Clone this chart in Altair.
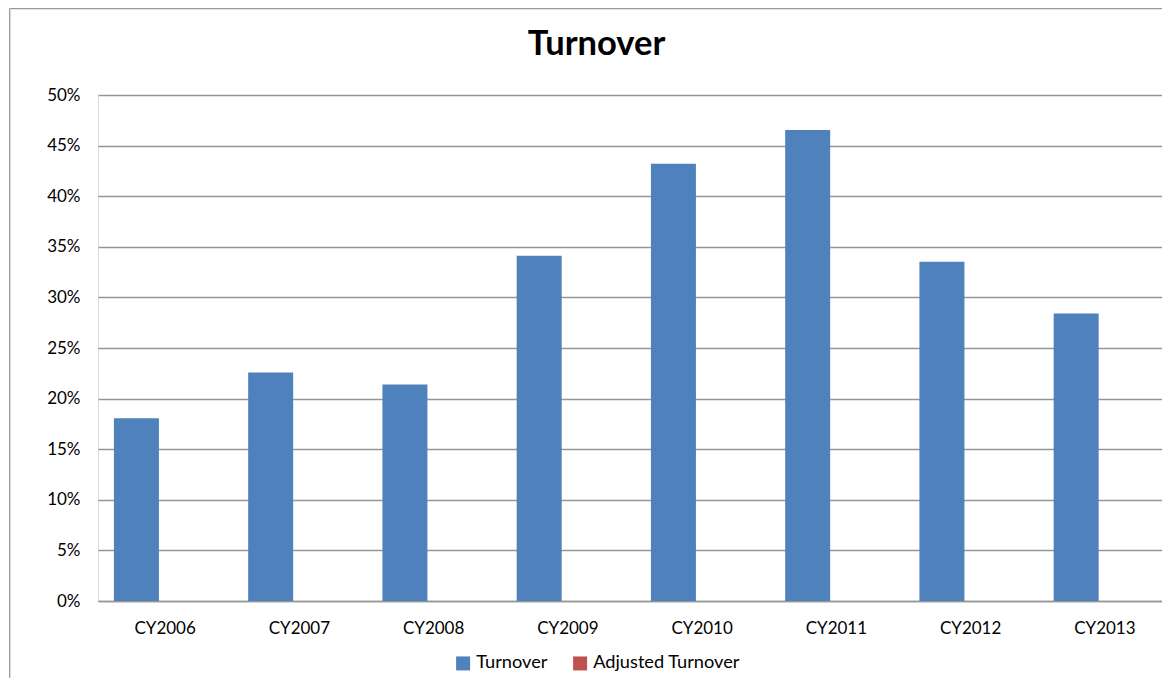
import altair as alt
import pandas as pd

categories = ["CY2006", "CY2007", "CY2008", "CY2009", "CY2010", "CY2011", "CY2012", "CY2013"]
turnover = [0.1805, 0.2258, 0.2140, 0.3412, 0.4320, 0.4655, 0.3353, 0.2840]
series_names = ["Turnover", "Adjusted Turnover"]
series_colors = ["#4F81BD", "#C0504D"]
y_ticks = [0, 0.05, 0.10, 0.15, 0.20, 0.25, 0.30, 0.35, 0.40, 0.45, 0.50]

df = pd.DataFrame({"cat": categories, "value": turnover, "series": ["Turnover"] * len(categories)})

FONT = "Lato"
W, H = 1064, 506
FULL_W = 1074

bars = alt.Chart(df).mark_bar(width=45, xOffset=-28.7).encode(
    x=alt.X("cat:N", sort=categories, title=None,
            scale=alt.Scale(range=[0, FULL_W], paddingInner=0, paddingOuter=0),
            axis=alt.Axis(labelAngle=0, ticks=False, tickSize=0, labelPadding=19,
                          labelFontSize=17, labelFont=FONT, labelColor="#000000",
                          domainColor="#969696", domainWidth=1.3, grid=False)),
    y=alt.Y("value:Q", title=None,
            scale=alt.Scale(domain=[0, 0.5], nice=False),
            axis=alt.Axis(values=y_ticks, format=".0%", ticks=False, domain=False,
                          labelPadding=18, labelFontSize=17, labelFont=FONT,
                          labelColor="#000000", gridColor="#969696", gridWidth=1.3)),
    color=alt.Color("series:N",
                    scale=alt.Scale(domain=series_names, range=series_colors),
                    legend=alt.Legend(title=None, orient="none", legendX=356, legendY=559,
                                      direction="horizontal", symbolType="square",
                                      symbolSize=196, symbolStrokeWidth=0,
                                      labelFont=FONT, labelFontSize=18.2, labelColor="#000000",
                                      labelOffset=4, columnPadding=23)),
)

title = alt.Chart(alt.Data(values=[{}])).mark_text(
    text="Turnover", font=FONT, fontSize=34.5, fontWeight="bold", color="#000000",
    align="center", baseline="alphabetic"
).encode(x=alt.value(498.5), y=alt.value(-39.7))

border_left = alt.Chart(alt.Data(values=[{}])).mark_rule(color="#9a9a9a", strokeWidth=1.3).encode(
    x=alt.value(-88.3), y=alt.value(-86.5), y2=alt.value(H + 80))
border_top = alt.Chart(alt.Data(values=[{}])).mark_rule(color="#9a9a9a", strokeWidth=1.3).encode(
    x=alt.value(-88.3), x2=alt.value(FULL_W + 20), y=alt.value(-86.5))

chart = alt.layer(bars, title, border_left, border_top).properties(
    width=W, height=H,
    autosize=alt.AutoSizeParams(type="none"),
    padding={"left": 90, "top": 87, "right": 0, "bottom": 77},
).configure_view(stroke=None).configure(background="#ffffff")

chart.save("out.html", embed_options={"renderer": "svg", "actions": False})
